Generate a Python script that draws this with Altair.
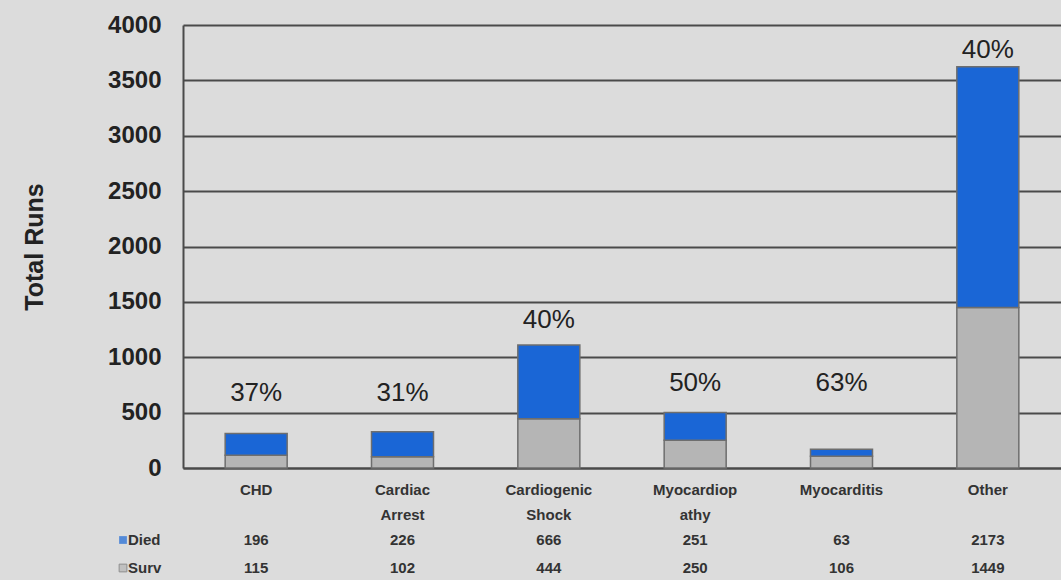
import altair as alt
import pandas as pd

categories = ["CHD", "Cardiac\nArrest", "Cardiogenic\nShock", "Myocardiop\nathy", "Myocarditis", "Other"]
died = [196, 226, 666, 251, 63, 2173]
surv = [115, 102, 444, 250, 106, 1449]
pct_labels = ["37%", "31%", "40%", "50%", "63%", "40%"]
pct_y = [677, 677, 1336, 767, 767, 3774]
y_ticks = [0, 500, 1000, 1500, 2000, 2500, 3000, 3500, 4000]
series = ["Died", "Surv"]
colors = ["#1a66d6", "#b5b5b5"]

rows = []
for c, d, s in zip(categories, died, surv):
    rows.append({"cat": c, "status": "Surv", "value": s, "ord": 0})
    rows.append({"cat": c, "status": "Died", "value": d, "ord": 1})
df = pd.DataFrame(rows)

pct_df = pd.DataFrame({"cat": categories, "label": pct_labels, "y": pct_y})
tab_df = pd.DataFrame({"cat": categories, "died": [str(v) for v in died], "surv": [str(v) for v in surv]})
leg_df = pd.DataFrame({"status": series})

FONT = "Liberation Sans"
xscale = alt.Scale(domain=categories, paddingInner=0, paddingOuter=0)
x_enc = alt.X("cat:N", scale=xscale, sort=categories,
              axis=alt.Axis(title=None, labelAngle=0, ticks=False, labelPadding=14,
                            labelFont=FONT, labelFontSize=15, labelFontWeight="bold",
                            labelColor="#333333", labelLineHeight=25,
                            labelExpr="split(datum.label, '\\n')",
                            domainColor="#4a4a4a", domainWidth=2, grid=False))

bars = alt.Chart(df).mark_bar(size=62, stroke="#6e6e6e", strokeWidth=1.5).encode(
    x=x_enc,
    y=alt.Y("value:Q", stack="zero",
            scale=alt.Scale(domain=[0, 4000], nice=False),
            axis=alt.Axis(values=y_ticks, format="d", title="Total Runs", titleFont=FONT,
                          titleFontSize=25, titleFontWeight="bold", titleColor="#222222",
                          titlePadding=60, labelFont=FONT, labelFontSize=24,
                          labelFontWeight="bold", labelColor="#222222", labelPadding=22,
                          ticks=False, domainColor="#4a4a4a", domainWidth=2,
                          gridColor="#4a4a4a", gridWidth=2, gridOpacity=1)),
    color=alt.Color("status:N", scale=alt.Scale(domain=series, range=colors), legend=None),
    order=alt.Order("ord:Q"),
)

pct = alt.Chart(pct_df).mark_text(font=FONT, fontSize=26, color="#222222", baseline="middle").encode(
    x=alt.X("cat:N", scale=xscale, sort=categories),
    y=alt.Y("y:Q"),
    text="label:N",
)

t_died = alt.Chart(tab_df).mark_text(font=FONT, fontSize=15, fontWeight="bold", color="#333333").encode(
    x=alt.X("cat:N", scale=xscale, sort=categories), y=alt.value(515), text="died:N")
t_surv = alt.Chart(tab_df).mark_text(font=FONT, fontSize=15, fontWeight="bold", color="#333333").encode(
    x=alt.X("cat:N", scale=xscale, sort=categories), y=alt.value(543), text="surv:N")

leg_died_sq = alt.Chart(leg_df.iloc[[0]]).mark_square(size=60, filled=True, color=colors[0]).encode(
    x=alt.value(-60), y=alt.value(515))
leg_surv_sq = alt.Chart(leg_df.iloc[[1]]).mark_square(size=60, filled=True, color=colors[1],
                                                      stroke="#6e6e6e", strokeWidth=1).encode(
    x=alt.value(-60), y=alt.value(543))
leg_died_tx = alt.Chart(leg_df.iloc[[0]]).mark_text(font=FONT, fontSize=15, fontWeight="bold",
                                                    color="#333333", align="left").encode(
    x=alt.value(-55), y=alt.value(515), text="status:N")
leg_surv_tx = alt.Chart(leg_df.iloc[[1]]).mark_text(font=FONT, fontSize=15, fontWeight="bold",
                                                    color="#333333", align="left").encode(
    x=alt.value(-55), y=alt.value(543), text="status:N")

chart = alt.layer(bars, pct, t_died, t_surv, leg_died_sq, leg_surv_sq, leg_died_tx, leg_surv_tx).properties(
    width=878, height=443,
    autosize=alt.AutoSizeParams(type="none"),
    padding={"left": 183, "top": 25, "right": 0, "bottom": 112},
    background="#dcdcdc",
).configure_view(stroke=None)

chart.save("out.html", embed_options={"renderer": "svg", "actions": False})
